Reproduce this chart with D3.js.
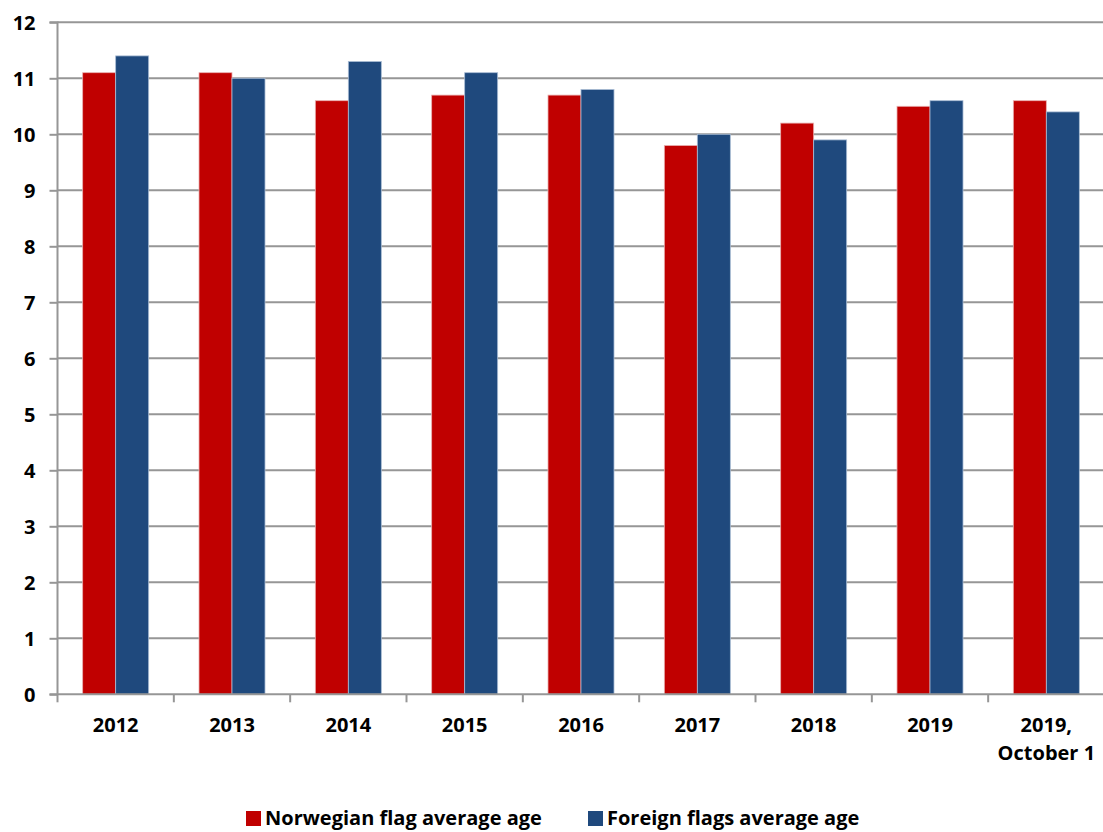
<!DOCTYPE html>
<html><head><meta charset="utf-8">
<script src="https://cdn.jsdelivr.net/npm/d3@7"></script>
<style>body{margin:0;background:#fff;} svg{display:block;font-family:"Open Sans", sans-serif;font-weight:bold;}</style>
</head><body>
<svg id="chart" width="1103" height="832"></svg>
<script>
const categories = ["2012","2013","2014","2015","2016","2017","2018","2019","2019,\nOctober 1"];
const norwegian = [11.1,11.1,10.6,10.7,10.7,9.8,10.2,10.5,10.6];
const foreign = [11.4,11.0,11.3,11.1,10.8,10.0,9.9,10.6,10.4];
const seriesNames = ["Norwegian flag average age","Foreign flags average age"];
const colors = ["#C00000","#1F497D"];
const yTicks = [0,1,2,3,4,5,6,7,8,9,10,11,12];

const FONT = "Open Sans";
const FS = 20;
const svg = d3.select("#chart");
const m = {left:57.5, right:1104.5, top:22.3, bottom:694.3};
const x = d3.scaleBand().domain(categories).range([m.left,m.right]).paddingInner(0).paddingOuter(0);
const y = d3.scaleLinear().domain([0,12]).range([m.bottom,m.top]);
const barW = 33;

// gridlines
svg.append("g").selectAll("line").data(yTicks.filter(d=>d>0)).join("line")
  .attr("x1",m.left).attr("x2",m.right).attr("y1",d=>y(d)).attr("y2",d=>y(d))
  .attr("stroke","#969696").attr("stroke-width",2);

// bars
const data = categories.map((c,i)=>({c, vals:[norwegian[i],foreign[i]]}));
const g = svg.append("g");
data.forEach(d=>{
  d.vals.forEach((v,j)=>{
    const cx = x(d.c)+x.bandwidth()/2;
    g.append("rect")
      .attr("x", cx - barW + j*barW).attr("width", barW)
      .attr("y", y(v)).attr("height", y(0)-y(v))
      .attr("fill", colors[j]).attr("stroke", j===0?"#e8b0b0":"#a9bcd4").attr("stroke-width",0.8);
  });
});

// y axis
const yAxis = d3.axisLeft(y).tickValues(yTicks).tickSize(8).tickPadding(14).tickFormat(d3.format("d"));
const ya = svg.append("g").attr("transform",`translate(${m.left},0)`).call(yAxis);
ya.select(".domain").attr("stroke","#969696").attr("stroke-width",2).attr("d",`M-8,${m.top}H0V${m.bottom}`);
ya.selectAll(".tick line").attr("stroke","#969696").attr("stroke-width",2);
ya.selectAll("text").attr("font-size",FS).attr("fill","#000").attr("font-weight","bold").attr("font-family",FONT)
  .attr("dy","0.36em");

// x axis
const xa = svg.append("g").attr("transform",`translate(0,${m.bottom})`);
xa.append("line").attr("x1",m.left-8).attr("x2",m.right).attr("stroke","#969696").attr("stroke-width",2);
const bounds = categories.map(c=>x(c)).concat([m.right]);
xa.selectAll(".tk").data(bounds).join("line").attr("class","tk")
  .attr("x1",d=>d).attr("x2",d=>d).attr("y1",0).attr("y2",8).attr("stroke","#969696").attr("stroke-width",2);
const xl = xa.selectAll(".xl").data(categories).join("text").attr("class","xl")
  .attr("text-anchor","middle").attr("font-size",FS).attr("fill","#000")
  .attr("transform",d=>`translate(${x(d)+x.bandwidth()/2},38)`);
xl.each(function(d){
  const lines = d.split("\n");
  d3.select(this).selectAll("tspan").data(lines).join("tspan").attr("x",0).attr("dy",(l,i)=>i===0?0:28).text(l=>l);
});

// legend
const legend = svg.append("g");
const items = [{x:246,name:seriesNames[0],c:colors[0]},{x:588,name:seriesNames[1],c:colors[1]}];
items.forEach(it=>{
  legend.append("rect").attr("x",it.x).attr("y",811).attr("width",15).attr("height",15).attr("fill",it.c);
  legend.append("text").attr("x",it.x+19).attr("y",825).attr("font-size",FS).attr("fill","#000").text(it.name);
});
</script>
</body></html>
